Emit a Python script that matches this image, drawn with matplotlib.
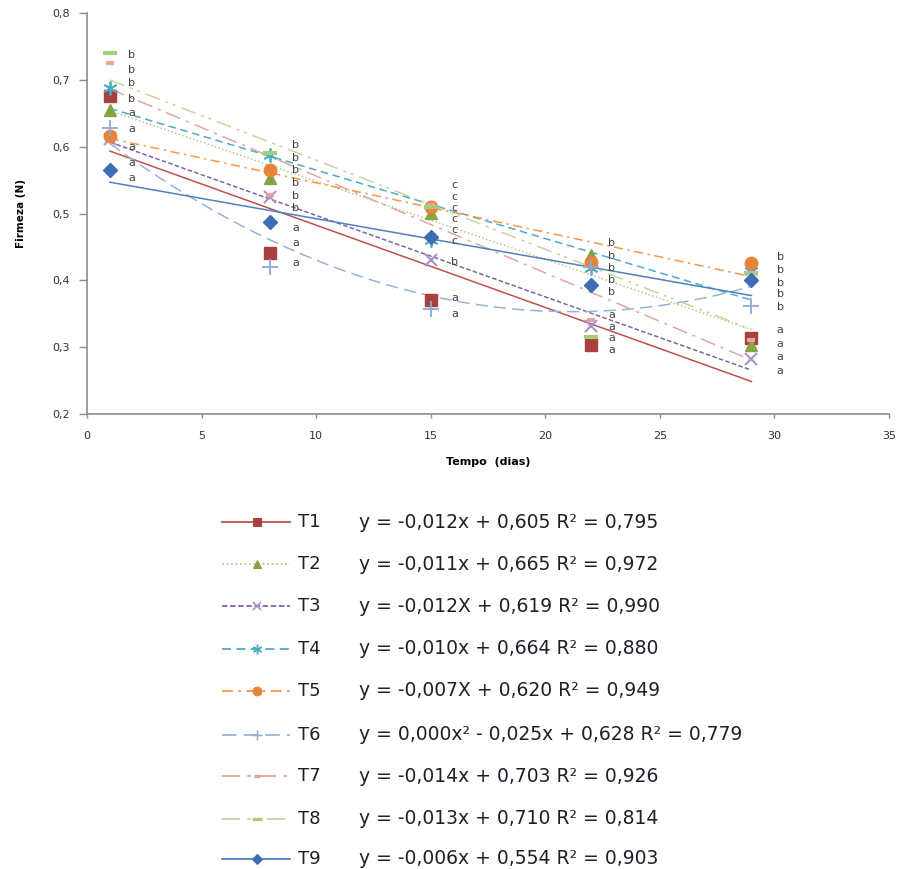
import numpy as np
import matplotlib
matplotlib.use("Agg")
import matplotlib.pyplot as plt
from matplotlib.ticker import FuncFormatter

# dias de armazenamento
days = [1, 8, 15, 22, 29]

# firmeza (N) por tratamento
t1 = [0.676, 0.441, 0.371, 0.303, 0.314]
t2 = [0.655, 0.553, 0.501, 0.438, 0.303]
t3 = [0.612, 0.525, 0.430, 0.332, 0.282]
t4 = [0.688, 0.588, 0.460, 0.419, 0.414]
t5 = [0.616, 0.565, 0.510, 0.428, 0.426]
t6 = [0.628, 0.420, 0.357, 0.420, 0.361]
t7 = [0.725, 0.528, 0.513, 0.341, 0.311]
t8 = [0.740, 0.590, 0.510, 0.315, 0.411]
t9 = [0.565, 0.487, 0.465, 0.393, 0.400]

names = ["T1", "T2", "T3", "T4", "T5", "T6", "T7", "T8", "T9"]
equations = [
    "y = -0,012x + 0,605 R\u00b2 = 0,795",
    "y = -0,011x + 0,665 R\u00b2 = 0,972",
    "y = -0,012X + 0,619 R\u00b2 = 0,990",
    "y = -0,010x + 0,664 R\u00b2 = 0,880",
    "y = -0,007X + 0,620 R\u00b2 = 0,949",
    "y = 0,000x\u00b2 - 0,025x + 0,628 R\u00b2 = 0,779",
    "y = -0,014x + 0,703 R\u00b2 = 0,926",
    "y = -0,013x + 0,710 R\u00b2 = 0,814",
    "y = -0,006x + 0,554 R\u00b2 = 0,903",
]
fit_degree = [1, 1, 1, 1, 1, 2, 1, 1, 1]

# letras de significancia em cada dia (de cima para baixo)
letters_d1 = ["b", "b", "b", "b", "a", "a", "a", "a", "a"]
letters_d8 = ["b", "b", "b", "b", "b", "b", "a", "a", "a"]
letters_d15 = ["c", "c", "c", "c", "c", "c", "b", "a", "a"]
letters_d22 = ["b", "b", "b", "b", "b", "a", "a", "a", "a"]
letters_d29 = ["b", "b", "b", "b", "b", "a", "a", "a", "a"]
letters_y_d1 = [0.737, 0.715, 0.696, 0.672, 0.651, 0.627, 0.600, 0.576, 0.553]
letters_y_d8 = [0.603, 0.583, 0.565, 0.546, 0.526, 0.508, 0.478, 0.456, 0.426]
letters_y_d15 = [0.543, 0.525, 0.508, 0.492, 0.475, 0.459, 0.428, 0.374, 0.350]
letters_y_d22 = [0.456, 0.437, 0.419, 0.401, 0.383, 0.348, 0.330, 0.314, 0.296]
letters_y_d29 = [0.435, 0.416, 0.396, 0.380, 0.360, 0.326, 0.305, 0.285, 0.264]

series = [t1, t2, t3, t4, t5, t6, t7, t8, t9]
line_colors = ["#C0504D", "#B5CC84", "#8064A2", "#4BACC6", "#F79646",
               "#95B3D7", "#E3A5A3", "#C3D69B", "#4F81BD"]
marker_colors = ["#A8403D", "#84A545", "#A995C9", "#4BACC6", "#E8843A",
                 "#8EA8D8", "#E6A3A3", "#A8CC7C", "#3E6DB5"]
line_styles = ["-", (0, (1, 1.5)), (0, (3, 1.5)), (0, (5, 3)), (0, (6, 3, 1.5, 3)),
               (0, (8, 4)), (0, (10, 4, 2, 4)), (0, (10, 4, 2, 3, 2, 4)), "-"]
markers = ["s", "^", "x", (6, 2, 0), "o", "+", "_", "_", "D"]
marker_sizes = [9, 9, 9, 10, 9, 11, 6, 10, 7.5]
marker_ew = [1, 1, 1.5, 1.3, 1, 1.3, 3, 3, 1]

fig = plt.figure(figsize=(9.02, 8.69), dpi=100)
ax = fig.add_axes([0.0965, 0.5236, 0.889, 0.4614])

xs = np.linspace(1, 29, 200)
for i, y in enumerate(series):
    coef = np.polyfit(days, y, fit_degree[i])
    ax.plot(xs, np.polyval(coef, xs), color=line_colors[i], ls=line_styles[i], lw=1.1, zorder=2)
for i, y in enumerate(series):
    ax.plot(days, y, ls="none", marker=markers[i], ms=marker_sizes[i],
            color=marker_colors[i], mec=marker_colors[i], mew=marker_ew[i], zorder=3)

label_x = [1.8, 8.95, 15.9, 22.75, 30.1]
all_letters = [letters_d1, letters_d8, letters_d15, letters_d22, letters_d29]
all_letters_y = [letters_y_d1, letters_y_d8, letters_y_d15, letters_y_d22, letters_y_d29]
for lx, lets, ly in zip(label_x, all_letters, all_letters_y):
    for t, yy in zip(lets, ly):
        ax.text(lx, yy, t, fontsize=8, color="#404040", va="center", ha="left", zorder=4)

ax.set_xlim(0, 35)
ax.set_ylim(0.2, 0.8)
ax.set_xticks(range(0, 36, 5))
ax.set_yticks(np.arange(0.2, 0.81, 0.1))
ax.yaxis.set_major_formatter(FuncFormatter(lambda v, p: f"{v:.1f}".replace(".", ",")))
for s in ["top", "right"]:
    ax.spines[s].set_visible(False)
for s in ["left", "bottom"]:
    ax.spines[s].set_color("#8C8C8C")
    ax.spines[s].set_linewidth(1.2)
ax.tick_params(axis="y", direction="out", length=5.5, width=1, color="#8C8C8C",
               labelsize=8, labelcolor="#303040", pad=7)
ax.tick_params(axis="x", direction="out", length=3, width=1, color="#8C8C8C",
               labelsize=8, labelcolor="#303040", pad=9)
ax.set_xlabel("Tempo  (dias)", fontsize=8, fontweight="bold", labelpad=12)
ax.set_ylabel("Firmeza (N)", fontsize=7.5, fontweight="bold", labelpad=19)

# legenda com equacoes (em pixels)
lg = fig.add_axes([0, 0, 1, 1], zorder=-1)
lg.set_xlim(0, 902)
lg.set_ylim(869, 0)
lg.axis("off")
entry_y = [522, 564, 606, 649, 691, 735, 776, 819, 859]
for i in range(9):
    yy = entry_y[i]
    lg.plot([222, 290], [yy, yy], color=line_colors[i], ls=line_styles[i], lw=1.3)
    lg.plot([257], [yy], marker=markers[i], ms=marker_sizes[i] * 0.7,
            color=marker_colors[i], mec=marker_colors[i], mew=marker_ew[i] * 0.8, ls="none")
    lg.text(298, yy, names[i], fontsize=13, color="#1F1F2A", va="center", ha="left")
    lg.text(359, yy, equations[i], fontsize=13.5, color="#1F1F2A", va="center", ha="left")

fig.savefig("out.png", dpi=100)
